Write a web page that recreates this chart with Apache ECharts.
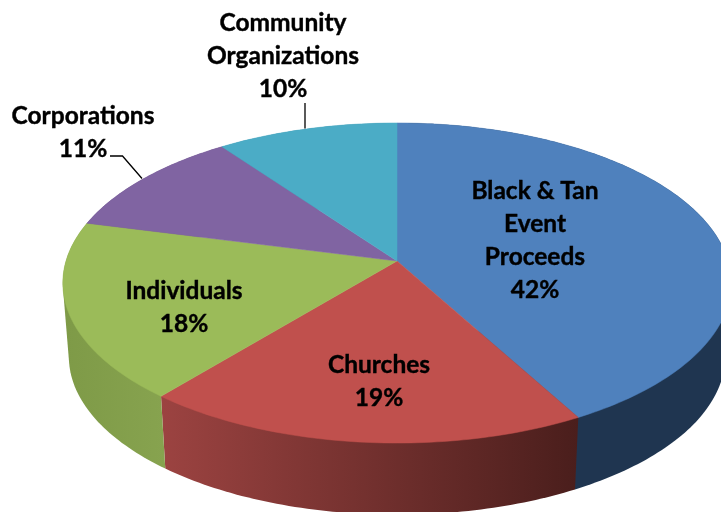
<!DOCTYPE html>
<html>
<head>
<meta charset="utf-8">
<style>html,body{margin:0;padding:0;background:#fff}#chart{width:721px;height:512px}</style>
<script src="https://cdn.jsdelivr.net/npm/echarts@6/dist/echarts.min.js"></script>
</head>
<body>
<div id="chart"></div>
<script>
// Funding sources
const categories = ['Black & Tan\nEvent\nProceeds', 'Churches', 'Individuals', 'Corporations', 'Community\nOrganizations'];
const shares = [42, 19, 18, 11, 10];

// Appearance of each slice
const topColors = ['#4f81bd', '#c0504d', '#9bbb59', '#8064a2', '#4bacc6'];
const wallStops = [
  ['#1f3550', '#1f3550'],
  ['#9c4341', '#4a1e1c'],
  ['#7e9a47', '#87a34f'],
  ['#604a7b', '#604a7b'],
  ['#31859c', '#31859c']
];
// Centre of each label block, in chart pixels
const labelCentres = [[535, 241], [379, 382], [184, 308], [83, 132.5], [283, 56.5]];
// Leader lines for the two labels placed outside the pie
const leaderLines = [
  [[110, 156], [122.5, 156], [142, 178.5]],
  [[305, 103], [305, 128.5]]
];

// Tilted disc: a unit circle seen through a simple perspective divide
const upperDisc = { cx: 397, cy: 261, rx: 331, ry: 157 };
const lowerDisc = { cx: 397, cy: 335, rx: 325, ry: 155 };
const foreshorten = 0.1375;
const TOTAL = shares.reduce((a, b) => a + b, 0);

function project(disc, fraction) {
  const t = fraction * 2 * Math.PI;
  const u = Math.sin(t), v = -Math.cos(t);
  const w = 1 - foreshorten * v;
  return [disc.cx + disc.rx * u / w, disc.cy + disc.ry * v / w];
}
function rim(disc, from, to) {
  const n = Math.max(2, Math.ceil((to - from) * 360));
  const pts = [];
  for (let i = 0; i <= n; i++) pts.push(project(disc, from + (to - from) * i / n));
  return pts;
}
// The wall of a slice is the hull of its two rims, so that the outline stays
// tangent where the disc turns away at the far left and right.
function hull(points) {
  const p = points.slice().sort((a, b) => a[0] - b[0] || a[1] - b[1]);
  const cross = (o, a, b) => (a[0] - o[0]) * (b[1] - o[1]) - (a[1] - o[1]) * (b[0] - o[0]);
  const chain = list => {
    const out = [];
    for (const q of list) {
      while (out.length > 1 && cross(out[out.length - 2], out[out.length - 1], q) <= 0) out.pop();
      out.push(q);
    }
    out.pop();
    return out;
  };
  return chain(p).concat(chain(p.slice().reverse()));
}
const starts = [];
shares.reduce((sum, v, i) => { starts[i] = sum / TOTAL; return sum + v; }, 0);

const rows = shares.map((v, i) => [i, v]);

function range(api) {
  const i = api.value(0);
  return { i, from: starts[i], to: starts[i] + api.value(1) / TOTAL };
}

function renderWall(params, api) {
  const { i, from, to } = range(api);
  const pts = hull(rim(upperDisc, from, to).concat(rim(lowerDisc, from, to))).map(p => api.coord(p));
  return {
    type: 'polygon',
    shape: { points: pts },
    style: {
      fill: new echarts.graphic.LinearGradient(0, 0, 1, 0, [
        { offset: 0, color: wallStops[i][0] },
        { offset: 1, color: wallStops[i][1] }
      ])
    }
  };
}

function renderTop(params, api) {
  const { i, from, to } = range(api);
  const pts = [[upperDisc.cx, upperDisc.cy]].concat(rim(upperDisc, from, to)).map(p => api.coord(p));
  return {
    type: 'polygon',
    shape: { points: pts },
    style: { fill: topColors[i], stroke: topColors[i], lineWidth: 0.5 }
  };
}

function renderLabel(params, api) {
  const i = api.value(0);
  const at = api.coord(labelCentres[i]);
  return {
    type: 'text',
    x: at[0],
    y: at[1],
    style: {
      text: categories[i] + '\n' + api.value(1) + '%',
      fill: '#000',
      stroke: '#000',
      lineWidth: 0.4,
      font: 'bold 24.5px Lato, "Open Sans", sans-serif',
      lineHeight: 33,
      align: 'center',
      verticalAlign: 'middle'
    }
  };
}

function renderLeader(params, api) {
  const line = leaderLines[api.value(0)];
  return {
    type: 'polyline',
    shape: { points: line.map(p => api.coord(p)) },
    style: { fill: null, stroke: '#000', lineWidth: 1.3 }
  };
}

const chart = echarts.init(document.getElementById('chart'), null, { renderer: 'canvas' });
chart.setOption({
  animation: false,
  backgroundColor: '#fff',
  grid: { left: 0, right: 0, top: 0, bottom: 0 },
  xAxis: { type: 'value', min: 0, max: 721, show: false },
  yAxis: { type: 'value', min: 0, max: 512, inverse: true, show: false },
  series: [
    { type: 'custom', z: 1, silent: true, clip: true, data: rows, renderItem: renderWall },
    { type: 'custom', z: 2, silent: true, clip: true, data: rows, renderItem: renderTop },
    { type: 'custom', z: 3, silent: true, data: leaderLines.map((l, i) => [i, 0]), renderItem: renderLeader },
    { type: 'custom', z: 4, silent: true, data: rows, renderItem: renderLabel }
  ]
});
</script>
</body>
</html>
